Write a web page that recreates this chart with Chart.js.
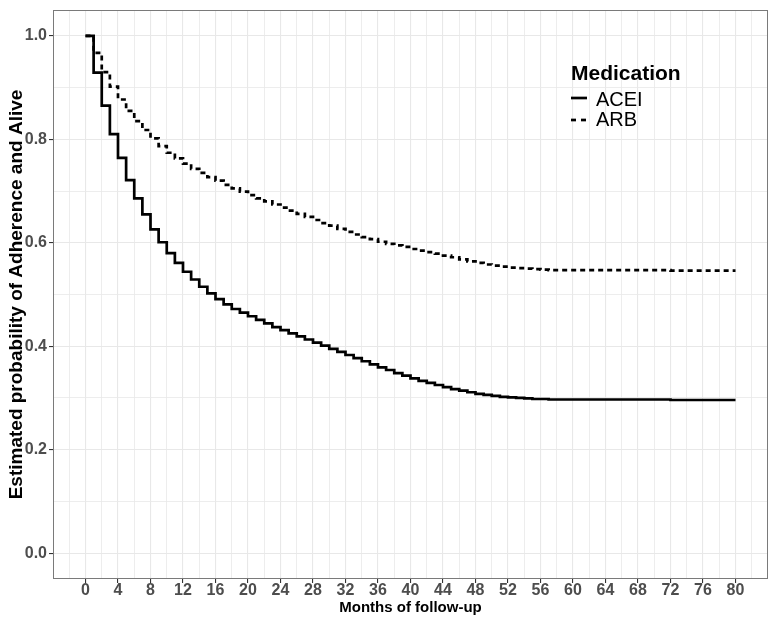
<!DOCTYPE html>
<html><head><meta charset="utf-8">
<script src="https://cdn.jsdelivr.net/npm/chart.js@4/dist/chart.umd.min.js"></script>
<style>html,body{margin:0;padding:0;background:#fff;}#wrap{width:780px;height:626px;position:relative;}</style>
</head><body><div id="wrap"><canvas id="c" width="780" height="626"></canvas></div>
<script>
const months = [0,1,2,3,4,5,6,7,8,9,10,11,12,13,14,15,16,17,18,19,20,21,22,23,24,25,26,27,28,29,30,31,32,33,34,35,36,37,38,39,40,41,42,43,44,45,46,47,48,49,50,51,52,53,54,55,56,57,58,59,60,61,62,63,64,65,66,67,68,69,70,71,72,73,74,75,76,77,78,79,80];
const acei = [1.000,0.929,0.865,0.810,0.764,0.721,0.686,0.655,0.626,0.601,0.580,0.561,0.544,0.529,0.515,0.502,0.491,0.481,0.472,0.465,0.458,0.451,0.444,0.437,0.431,0.425,0.419,0.413,0.407,0.401,0.395,0.389,0.383,0.377,0.371,0.365,0.359,0.354,0.348,0.343,0.338,0.333,0.329,0.325,0.321,0.317,0.314,0.311,0.308,0.306,0.304,0.302,0.301,0.300,0.299,0.298,0.298,0.297,0.297,0.297,0.297,0.297,0.297,0.297,0.297,0.297,0.297,0.297,0.297,0.297,0.297,0.297,0.296,0.296,0.296,0.296,0.296,0.296,0.296,0.296,0.296];
const arb = [1.000,0.967,0.930,0.902,0.877,0.855,0.835,0.818,0.802,0.787,0.774,0.763,0.753,0.743,0.735,0.727,0.720,0.712,0.705,0.699,0.692,0.686,0.680,0.674,0.668,0.662,0.656,0.650,0.644,0.638,0.633,0.627,0.621,0.616,0.611,0.607,0.602,0.598,0.595,0.592,0.588,0.585,0.582,0.579,0.575,0.572,0.568,0.564,0.561,0.558,0.556,0.554,0.552,0.551,0.550,0.549,0.548,0.547,0.547,0.547,0.547,0.547,0.547,0.547,0.547,0.547,0.547,0.547,0.547,0.547,0.547,0.547,0.546,0.546,0.546,0.546,0.546,0.546,0.546,0.546,0.546];
const xTicks = [0,4,8,12,16,20,24,28,32,36,40,44,48,52,56,60,64,68,72,76,80];
const yTicks = [0,0.2,0.4,0.6,0.8,1.0];
const seriesNames = ['ACEI','ARB'];
const legendTitle = 'Medication';
const xTitle = 'Months of follow-up';
const yTitle = 'Estimated probability of Adherence and Alive';

const FONT = "'Liberation Sans', Arial, sans-serif";
function withMinor(t, lo, hi){
  const step = t[1]-t[0];
  const out = [];
  for (let v = t[0]-step/2; v >= lo + 1e-9; v -= step/2) out.unshift(v);
  for (let i=0;i<t.length;i++){ out.push(t[i]); if(i<t.length-1) out.push((t[i]+t[i+1])/2); }
  for (let v = t[t.length-1]+step/2; v <= hi - 1e-9; v += step/2) out.push(v);
  return out;
}
const isMajor = (arr, v) => arr.some(a => Math.abs(a - v) < 1e-9);
const xMin=-4, xMax=84, yMin=-0.05, yMax=1.05;
const xGrid = withMinor(xTicks, xMin, xMax);
const yGrid = withMinor(yTicks, yMin, yMax);

const frame = {
  id:'frame',
  afterDraw(chart){
    const {ctx, chartArea:a} = chart;
    ctx.save();
    ctx.strokeStyle = '#7a7a7a'; ctx.lineWidth = 1;
    ctx.strokeRect(a.left+0.5, a.top+0.5, a.right-a.left-1, a.bottom-a.top-1);
    ctx.fillStyle = '#000';
    ctx.textBaseline = 'alphabetic';
    ctx.font = "bold 21px " + FONT;
    ctx.fillText(legendTitle, 571, 80);
    ctx.font = "20px " + FONT;
    ctx.fillText(seriesNames[0], 596, 106);
    ctx.fillText(seriesNames[1], 596, 126);
    ctx.strokeStyle = '#000'; ctx.lineWidth = 2.7;
    ctx.beginPath(); ctx.moveTo(571, 98); ctx.lineTo(587, 98); ctx.stroke();
    ctx.setLineDash([5,5]);
    ctx.beginPath(); ctx.moveTo(571, 120); ctx.lineTo(587, 120); ctx.stroke();
    ctx.restore();
  }
};

new Chart(document.getElementById('c'), {
  type:'line',
  data:{datasets:[
    {label:seriesNames[0], data:months.map((m,i)=>({x:m,y:acei[i]})), borderColor:'#000', borderWidth:2.7, stepped:true, pointRadius:0, fill:false},
    {label:seriesNames[1], data:months.map((m,i)=>({x:m,y:arb[i]})), borderColor:'#000', borderWidth:2.7, borderDash:[5,4], stepped:true, pointRadius:0, fill:false}
  ]},
  options:{
    responsive:false, animation:false,
    layout:{padding:{top:10,right:12,left:0,bottom:0}},
    plugins:{legend:{display:false}, tooltip:{enabled:false}},
    scales:{
      x:{type:'linear', min:xMin, max:xMax,
        afterBuildTicks:s=>{ s.ticks = xGrid.map(v=>({value:v})); },
        afterFit:s=>{ s.height = 47; s.paddingLeft = 0; s.paddingRight = 0; },
        border:{display:false},
        grid:{color:'#e8e8e8', lineWidth:c=>isMajor(xTicks,c.tick.value)?1.1:0.8, tickLength:4,
              tickColor:c=>isMajor(xTicks,c.tick.value)?'#333':'rgba(0,0,0,0)'},
        ticks:{autoSkip:false, maxRotation:0, padding:0, color:'#4d4d4d', font:{family:FONT, weight:'bold', size:16, lineHeight:1.0},
               callback:v=>isMajor(xTicks,v)?String(Math.round(v)):''},
        title:{display:true, text:xTitle, color:'#000', font:{family:FONT, weight:'bold', size:15, lineHeight:1.0}, padding:{top:0,bottom:11}}
      },
      y:{type:'linear', min:yMin, max:yMax,
        afterBuildTicks:s=>{ s.ticks = yGrid.map(v=>({value:v})); },
        afterFit:s=>{ s.width = 53; s.paddingTop = 0; s.paddingBottom = 0; },
        border:{display:false},
        grid:{color:'#e8e8e8', lineWidth:c=>isMajor(yTicks,c.tick.value)?1.1:0.8, tickLength:4,
              tickColor:c=>isMajor(yTicks,c.tick.value)?'#333':'rgba(0,0,0,0)'},
        ticks:{autoSkip:false, padding:2, color:'#4d4d4d', font:{family:FONT, weight:'bold', size:16},
               callback:v=>isMajor(yTicks,v)?v.toFixed(1):''},
        title:{display:true, text:yTitle, color:'#000', font:{family:FONT, weight:'bold', size:19, lineHeight:1.0}, padding:{top:7,bottom:0}}
      }
    }
  },
  plugins:[frame]
});
</script></body></html>
